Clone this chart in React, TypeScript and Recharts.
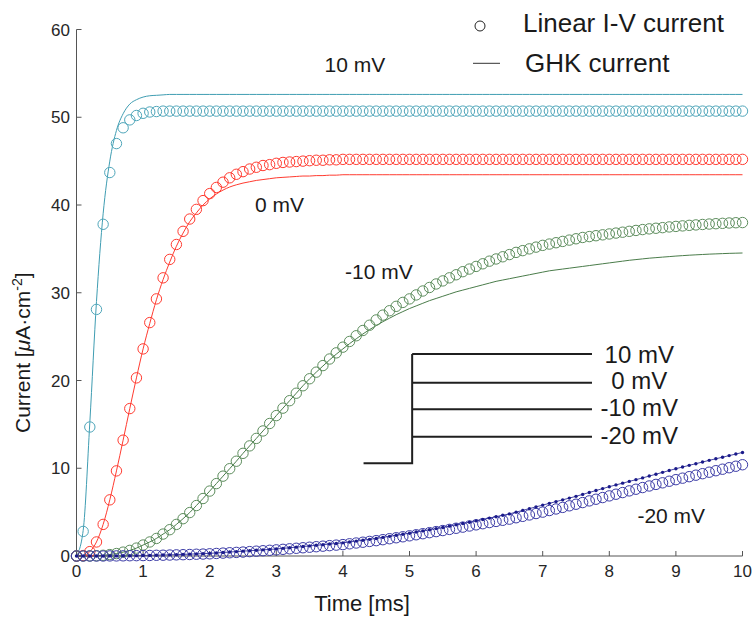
import React from 'react';
import { ComposedChart, Line, XAxis, YAxis, ReferenceDot, Legend } from 'recharts';

// ---------- data ----------
// sampling times [ms]
const TIME_MS: number[] = Array.from({ length: 101 }, (_, i) => i / 10);

const X_TICKS = [0, 1, 2, 3, 4, 5, 6, 7, 8, 9, 10];
const Y_TICKS = [0, 10, 20, 30, 40, 50, 60];

// Linear I-V current (circles), 10 mV
const LIN_10 = [
  0, 2.8, 14.7, 28.1, 37.8, 43.7, 47.0, 48.8, 49.7, 50.2,
  50.45, 50.6, 50.65, 50.7, 50.7, 50.7, 50.7, 50.7, 50.7, 50.7,
  50.7, 50.7, 50.7, 50.7, 50.7, 50.7, 50.7, 50.7, 50.7, 50.7,
  50.7, 50.7, 50.7, 50.7, 50.7, 50.7, 50.7, 50.7, 50.7, 50.7,
  50.7, 50.7, 50.7, 50.7, 50.7, 50.7, 50.7, 50.7, 50.7, 50.7,
  50.7, 50.7, 50.7, 50.7, 50.7, 50.7, 50.7, 50.7, 50.7, 50.7,
  50.7, 50.7, 50.7, 50.7, 50.7, 50.7, 50.7, 50.7, 50.7, 50.7,
  50.7, 50.7, 50.7, 50.7, 50.7, 50.7, 50.7, 50.7, 50.7, 50.7,
  50.7, 50.7, 50.7, 50.7, 50.7, 50.7, 50.7, 50.7, 50.7, 50.7,
  50.7, 50.7, 50.7, 50.7, 50.7, 50.7, 50.7, 50.7, 50.7, 50.7,
  50.7,
];
// GHK current (line), 10 mV
const GHK_10 = [
  0, 2.9, 15.2, 29.0, 39.0, 45.0, 48.5, 50.4, 51.5, 52.0,
  52.3, 52.45, 52.5, 52.55, 52.6, 52.6, 52.6, 52.6, 52.6, 52.6,
  52.6, 52.6, 52.6, 52.6, 52.6, 52.6, 52.6, 52.6, 52.6, 52.6,
  52.6, 52.6, 52.6, 52.6, 52.6, 52.6, 52.6, 52.6, 52.6, 52.6,
  52.6, 52.6, 52.6, 52.6, 52.6, 52.6, 52.6, 52.6, 52.6, 52.6,
  52.6, 52.6, 52.6, 52.6, 52.6, 52.6, 52.6, 52.6, 52.6, 52.6,
  52.6, 52.6, 52.6, 52.6, 52.6, 52.6, 52.6, 52.6, 52.6, 52.6,
  52.6, 52.6, 52.6, 52.6, 52.6, 52.6, 52.6, 52.6, 52.6, 52.6,
  52.6, 52.6, 52.6, 52.6, 52.6, 52.6, 52.6, 52.6, 52.6, 52.6,
  52.6, 52.6, 52.6, 52.6, 52.6, 52.6, 52.6, 52.6, 52.6, 52.6,
  52.6,
];

// 0 mV
const LIN_0 = [
  0, 0.05, 0.5, 1.6, 3.6, 6.4, 9.7, 13.2, 16.8, 20.3,
  23.6, 26.6, 29.3, 31.7, 33.8, 35.5, 37.0, 38.4, 39.5, 40.5,
  41.3, 42.0, 42.6, 43.1, 43.5, 43.8, 44.1, 44.3, 44.5, 44.6,
  44.75, 44.85, 44.9, 44.95, 45.0, 45.05, 45.1, 45.1, 45.15, 45.15,
  45.2, 45.2, 45.2, 45.2, 45.2, 45.2, 45.2, 45.2, 45.2, 45.2,
  45.2, 45.2, 45.2, 45.2, 45.2, 45.2, 45.2, 45.2, 45.2, 45.2,
  45.2, 45.2, 45.2, 45.2, 45.2, 45.2, 45.2, 45.2, 45.2, 45.2,
  45.2, 45.2, 45.2, 45.2, 45.2, 45.2, 45.2, 45.2, 45.2, 45.2,
  45.2, 45.2, 45.2, 45.2, 45.2, 45.2, 45.2, 45.2, 45.2, 45.2,
  45.2, 45.2, 45.2, 45.2, 45.2, 45.2, 45.2, 45.2, 45.2, 45.2,
  45.2,
];
const GHK_0 = [
  0, 0.05, 0.5, 1.6, 3.6, 6.4, 9.7, 13.2, 16.8, 20.3,
  23.6, 26.5, 29.2, 31.5, 33.5, 35.3, 36.8, 38.1, 39.1, 40.0,
  40.7, 41.25, 41.7, 42.05, 42.3, 42.5, 42.65, 42.8, 42.9, 43.0,
  43.1, 43.15, 43.2, 43.25, 43.3, 43.3, 43.35, 43.35, 43.4, 43.4,
  43.45, 43.45, 43.45, 43.45, 43.45, 43.45, 43.45, 43.45, 43.45, 43.45,
  43.45, 43.45, 43.45, 43.45, 43.45, 43.45, 43.45, 43.45, 43.45, 43.45,
  43.45, 43.45, 43.45, 43.45, 43.45, 43.45, 43.45, 43.45, 43.45, 43.45,
  43.45, 43.45, 43.45, 43.45, 43.45, 43.45, 43.45, 43.45, 43.45, 43.45,
  43.45, 43.45, 43.45, 43.45, 43.45, 43.45, 43.45, 43.45, 43.45, 43.45,
  43.45, 43.45, 43.45, 43.45, 43.45, 43.45, 43.45, 43.45, 43.45, 43.45,
  43.45,
];

// -10 mV
const LIN_M10 = [
  0, 0, 0.01, 0.03, 0.08, 0.16, 0.28, 0.44, 0.64, 0.9,
  1.25, 1.6, 2.0, 2.5, 3.0, 3.6, 4.25, 4.95, 5.75, 6.55,
  7.4, 8.25, 9.1, 9.95, 10.8, 11.7, 12.55, 13.4, 14.25, 15.1,
  16.0, 16.85, 17.7, 18.55, 19.4, 20.2, 20.95, 21.7, 22.45, 23.15,
  23.8, 24.45, 25.1, 25.7, 26.3, 26.9, 27.45, 27.95, 28.45, 28.9,
  29.3, 29.75, 30.2, 30.6, 31.0, 31.35, 31.7, 32.05, 32.4, 32.7,
  33.0, 33.3, 33.6, 33.85, 34.1, 34.35, 34.6, 34.8, 35.0, 35.2,
  35.4, 35.55, 35.7, 35.85, 36.0, 36.15, 36.3, 36.4, 36.5, 36.6,
  36.7, 36.8, 36.9, 37.0, 37.1, 37.2, 37.28, 37.35, 37.42, 37.5,
  37.56, 37.62, 37.68, 37.73, 37.78, 37.83, 37.87, 37.91, 37.95, 37.98,
  38.0,
];
const GHK_M10 = [
  0, 0, 0.01, 0.03, 0.08, 0.16, 0.28, 0.44, 0.64, 0.9,
  1.25, 1.6, 2.0, 2.5, 3.0, 3.6, 4.25, 4.95, 5.75, 6.55,
  7.4, 8.25, 9.1, 9.95, 10.8, 11.7, 12.55, 13.4, 14.25, 15.1,
  16.0, 16.85, 17.7, 18.55, 19.4, 20.2, 20.95, 21.65, 22.35, 23.0,
  23.6, 24.2, 24.75, 25.3, 25.8, 26.25, 26.7, 27.1, 27.5, 27.85,
  28.2, 28.5, 28.8, 29.1, 29.35, 29.6, 29.85, 30.1, 30.3, 30.5,
  30.7, 30.9, 31.1, 31.3, 31.45, 31.6, 31.75, 31.9, 32.05, 32.2,
  32.35, 32.5, 32.6, 32.7, 32.8, 32.9, 33.0, 33.1, 33.2, 33.3,
  33.4, 33.5, 33.6, 33.7, 33.78, 33.86, 33.94, 34.0, 34.06, 34.12,
  34.18, 34.23, 34.28, 34.32, 34.36, 34.4, 34.43, 34.46, 34.49, 34.51,
  34.53,
];

// -20 mV
const LIN_M20 = [
  0, 0, 0, 0, 0, 0.01, 0.01, 0.02, 0.03, 0.04,
  0.05, 0.06, 0.08, 0.09, 0.11, 0.13, 0.15, 0.17, 0.2, 0.22,
  0.25, 0.29, 0.33, 0.37, 0.41, 0.45, 0.5, 0.55, 0.6, 0.65,
  0.7, 0.76, 0.82, 0.88, 0.94, 1.0, 1.06, 1.12, 1.18, 1.24,
  1.3, 1.39, 1.48, 1.57, 1.66, 1.75, 1.86, 1.97, 2.08, 2.19,
  2.3, 2.42, 2.54, 2.66, 2.78, 2.9, 3.03, 3.16, 3.29, 3.42,
  3.55, 3.68, 3.81, 3.94, 4.07, 4.2, 4.36, 4.52, 4.68, 4.84,
  5.0, 5.18, 5.36, 5.54, 5.72, 5.9, 6.09, 6.28, 6.47, 6.66,
  6.85, 7.04, 7.23, 7.42, 7.61, 7.8, 7.98, 8.16, 8.34, 8.52,
  8.7, 8.87, 9.04, 9.21, 9.38, 9.55, 9.72, 9.89, 10.06, 10.23,
  10.4,
];
const GHK_M20 = [
  0, 0, 0, 0, 0, 0.01, 0.01, 0.02, 0.03, 0.04,
  0.05, 0.07, 0.09, 0.11, 0.13, 0.15, 0.18, 0.21, 0.24, 0.27,
  0.3, 0.35, 0.4, 0.45, 0.5, 0.55, 0.6, 0.65, 0.7, 0.75,
  0.8, 0.87, 0.94, 1.01, 1.08, 1.15, 1.22, 1.29, 1.36, 1.43,
  1.5, 1.6, 1.7, 1.8, 1.9, 2.0, 2.12, 2.24, 2.36, 2.48,
  2.6, 2.73, 2.86, 2.99, 3.12, 3.25, 3.4, 3.55, 3.7, 3.85,
  4.0, 4.16, 4.32, 4.48, 4.64, 4.8, 5.0, 5.2, 5.4, 5.6,
  5.8, 6.0, 6.2, 6.4, 6.6, 6.8, 7.02, 7.24, 7.46, 7.68,
  7.9, 8.1, 8.3, 8.5, 8.7, 8.9, 9.11, 9.32, 9.53, 9.74,
  9.95, 10.14, 10.33, 10.52, 10.71, 10.9, 11.08, 11.26, 11.44, 11.62,
  11.8,
];

// curve labels [text, t, current(baseline)]
const CURVE_LABELS: [string, number, number][] = [
  ['10 mV', 4.18, 55.2],
  ['0 mV', 3.05, 39.2],
  ['-10 mV', 4.54, 31.6],
  ['-20 mV', 8.93, 3.8],
];

// voltage-step inset (drawn in data units)
const STEP_PRE_T = [4.31, 5.04];
const STEP_PRE_LEVEL = 10.56;
const STEP_ON_T = 5.04;
const STEP_END_T = 7.74;
const STEP_LEVELS = [23.01, 19.74, 16.71, 13.59];
const STEP_LABELS = ['10 mV', '0 mV', '-10 mV', '-20 mV'];
const STEP_LABEL_T = 8.45;
const STEP_LABEL_BASE = [22.05, 19.0, 15.95, 12.75];

// ---------- styles ----------
const FONT = '"Liberation Sans", Arial, Helvetica, sans-serif';
const C_TEAL = '#4fa6ba';
const C_TEAL_LINE = '#3f9db2';
const C_RED = '#ff3b30';
const C_GREEN = '#5d8d5d';
const C_GREEN_LINE = '#4a7c4a';
const C_NAVY = '#3a3aa6';
const C_NAVY_DOT = '#1a1a8a';
const AXIS = '#555555';

const pts = (vals: number[]) => TIME_MS.map((t, i) => ({ t, v: vals[i] }));
const seg = (t: number[], v: number[]) => t.map((tt, i) => ({ t: tt, v: v[i] }));

const circleDot = (color: string) => ({ r: 5.2, fill: 'none', stroke: color, strokeWidth: 1 });

const LegendBox = () => (
  <svg width={290} height={80} style={{ display: 'block', overflow: 'visible' }}>
    <circle cx={20} cy={26} r={5} fill="none" stroke="#222" strokeWidth={1} />
    <text x={63} y={31.5} fontSize={26} fontFamily={FONT} fill="#1a1a1a">Linear I-V current</text>
    <line x1={13} x2={40} y1={63.3} y2={63.3} stroke="#333" strokeWidth={1} />
    <text x={65} y={72} fontSize={26} fontFamily={FONT} fill="#1a1a1a">GHK current</text>
  </svg>
);

const XTitle = (props: any) => {
  const vb = props.viewBox || { x: 76.5, y: 556 };
  return (
    <text x={vb.x + 285.5} y={vb.y + 55} textAnchor="middle" fontSize={22} fontFamily={FONT} fill="#1a1a1a">
      Time [ms]
    </text>
  );
};

const YTitle = (props: any) => {
  const vb = props.viewBox || { x: 16.5, y: 29.5, height: 526.5 };
  const bx = vb.x + 13.5;
  const by = vb.y + 403.5;
  return (
    <text transform={`translate(${bx},${by}) rotate(-90)`} textAnchor="start" fontSize={21} fontFamily={FONT} fill="#1a1a1a">
      Current [<tspan fontStyle="italic">μ</tspan>A·cm<tspan dy={-8} fontSize={14}>-2</tspan><tspan dy={8}>]</tspan>
    </text>
  );
};

const textShape = (label: string, size: number) => (p: any) => (
  <text x={p.cx} y={p.cy} textAnchor="middle" fontSize={size} fontFamily={FONT} fill="#1a1a1a">{label}</text>
);

export default function App() {
  const tickStyle = { fill: '#262626', fontSize: 17, fontFamily: FONT };
  return (
    <div style={{ position: 'absolute', left: 0, top: 0, width: 753, height: 618, background: '#fff' }}>
      <ComposedChart
        width={753}
        height={618}
        margin={{ top: 29.5, right: 10.5, bottom: 22, left: 16.5 }}
      >
        <XAxis
          dataKey="t"
          type="number"
          domain={[0, 10]}
          ticks={X_TICKS}
          interval={0}
          height={40}
          axisLine={{ stroke: AXIS, strokeWidth: 1 }}
          tickLine={{ stroke: AXIS, strokeWidth: 1 }}
          tickSize={-5}
          tickMargin={14}
          tick={tickStyle}
          allowDecimals
          label={{ content: XTitle }}
        />
        <YAxis
          dataKey="v"
          type="number"
          domain={[0, 60]}
          ticks={Y_TICKS}
          interval={0}
          width={60}
          axisLine={{ stroke: AXIS, strokeWidth: 1 }}
          tickLine={{ stroke: AXIS, strokeWidth: 1 }}
          tickSize={-5}
          tickMargin={11.5}
          tick={tickStyle}
          label={{ content: YTitle }}
        />
        <Legend
          layout="vertical"
          align="center"
          verticalAlign="middle"
          wrapperStyle={{ position: 'absolute', left: 460, top: 0, width: 290, height: 80 }}
          content={() => <LegendBox />}
        />

        {/* 10 mV */}
        <Line data={pts(LIN_10)} dataKey="v" stroke="none" dot={circleDot(C_TEAL)} activeDot={false} isAnimationActive={false} legendType="none" />
        <Line data={pts(GHK_10)} dataKey="v" type="monotone" stroke={C_TEAL_LINE} strokeWidth={1} dot={false} activeDot={false} isAnimationActive={false} legendType="none" />
        {/* 0 mV */}
        <Line data={pts(LIN_0)} dataKey="v" stroke="none" dot={circleDot(C_RED)} activeDot={false} isAnimationActive={false} legendType="none" />
        <Line data={pts(GHK_0)} dataKey="v" type="monotone" stroke={C_RED} strokeWidth={1} dot={false} activeDot={false} isAnimationActive={false} legendType="none" />
        {/* -10 mV */}
        <Line data={pts(LIN_M10)} dataKey="v" stroke="none" dot={circleDot(C_GREEN)} activeDot={false} isAnimationActive={false} legendType="none" />
        <Line data={pts(GHK_M10)} dataKey="v" type="monotone" stroke={C_GREEN_LINE} strokeWidth={1} dot={false} activeDot={false} isAnimationActive={false} legendType="none" />
        {/* -20 mV */}
        <Line data={pts(LIN_M20)} dataKey="v" stroke="none" dot={circleDot(C_NAVY)} activeDot={false} isAnimationActive={false} legendType="none" />
        <Line data={pts(GHK_M20)} dataKey="v" type="monotone" stroke={C_NAVY_DOT} strokeWidth={0.8} dot={{ r: 1.7, fill: C_NAVY_DOT, stroke: 'none' }} activeDot={false} isAnimationActive={false} legendType="none" />

        {/* voltage-step inset */}
        <Line
          data={seg([STEP_PRE_T[0], STEP_PRE_T[1], STEP_ON_T], [STEP_PRE_LEVEL, STEP_PRE_LEVEL, STEP_LEVELS[0]])}
          dataKey="v" type="linear" stroke="#1f1f1f" strokeWidth={2} dot={false} activeDot={false} isAnimationActive={false} legendType="none"
        />
        {STEP_LEVELS.map((lv, i) => (
          <Line
            key={'step' + i}
            data={seg([STEP_ON_T, STEP_END_T], [lv, lv])}
            dataKey="v" type="linear" stroke="#1f1f1f" strokeWidth={2} dot={false} activeDot={false} isAnimationActive={false} legendType="none"
          />
        ))}
        {STEP_LABELS.map((lab, i) => (
          <ReferenceDot key={'sl' + i} x={STEP_LABEL_T} y={STEP_LABEL_BASE[i]} r={1} shape={textShape(lab, 24)} />
        ))}
        {CURVE_LABELS.map(([lab, t, v], i) => (
          <ReferenceDot key={'cl' + i} x={t} y={v} r={1} shape={textShape(lab, 21)} />
        ))}
      </ComposedChart>
    </div>
  );
}
